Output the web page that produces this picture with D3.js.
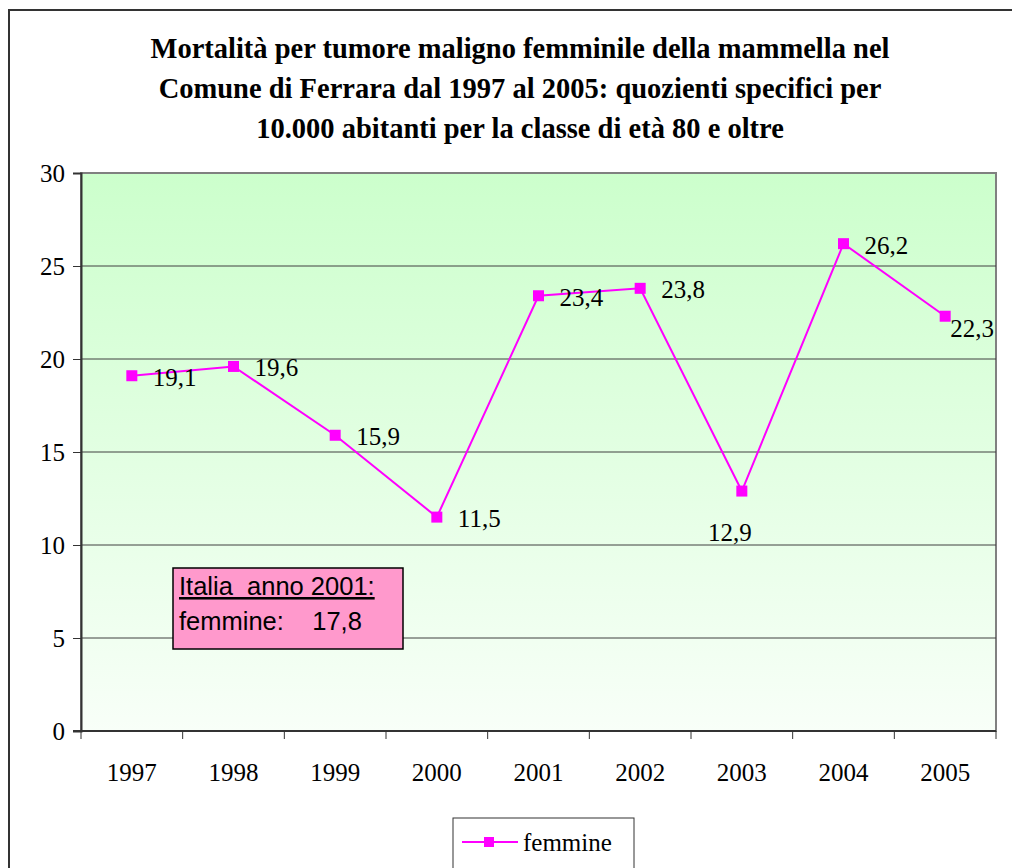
<!DOCTYPE html>
<html lang="it">
<head>
<meta charset="UTF-8" />
<title>Mortalità tumore mammella Ferrara</title>
<script src="https://d3js.org/d3.v7.min.js"></script>
<style>
  body { margin: 0; background: #fff; }
  svg { display: block; }
</style>
</head>
<body>
<svg id="chart" width="1012" height="868"></svg>
<script>
  const years = ["1997", "1998", "1999", "2000", "2001", "2002", "2003", "2004", "2005"];
  const femmine = [19.1, 19.6, 15.9, 11.5, 23.4, 23.8, 12.9, 26.2, 22.3];
  const yTicks = [0, 5, 10, 15, 20, 25, 30];
  const titleLines = [
    "Mortalità per tumore maligno femminile della mammella nel",
    "Comune di Ferrara dal 1997 al 2005: quozienti specifici per",
    "10.000 abitanti per la classe di età 80 e oltre"
  ];
  const noteLines = ["Italia  anno 2001:", "femmine:    17,8"];
  const seriesName = "femmine";

  // labels were moved by hand in the original for two points
  const labelNudge = { "2003": [-12, 50, "middle"], "2005": [5, 21, "start"] };

  const SERIF = "'Liberation Serif', 'Times New Roman', serif";
  const SANS = "'Liberation Sans', Arial, sans-serif";

  const svg = d3.select("#chart");
  const plot = { left: 81, top: 173, right: 996, bottom: 731 };

  // outer frame
  svg.append("rect")
    .attr("x", 9).attr("y", 10)
    .attr("width", 1040).attr("height", 900)
    .attr("fill", "#fff").attr("stroke", "#333").attr("stroke-width", 2);

  // title
  svg.append("g")
    .selectAll("text").data(titleLines).enter().append("text")
    .attr("x", 520).attr("y", (d, i) => 58 + i * 40)
    .attr("text-anchor", "middle")
    .attr("font-family", SERIF)
    .attr("font-size", 28.5).attr("font-weight", "bold")
    .text(d => d);

  const x = d3.scaleBand().domain(years).range([plot.left, plot.right]);
  const y = d3.scaleLinear().domain([0, 30]).range([plot.bottom, plot.top]);

  // background gradient
  const grad = svg.append("defs").append("linearGradient")
    .attr("id", "bg").attr("x1", 0).attr("y1", 0).attr("x2", 0).attr("y2", 1);
  grad.append("stop").attr("offset", "0%").attr("stop-color", "#ccffcc");
  grad.append("stop").attr("offset", "100%").attr("stop-color", "#f8fff8");

  svg.append("rect")
    .attr("x", plot.left).attr("y", plot.top)
    .attr("width", plot.right - plot.left).attr("height", plot.bottom - plot.top)
    .attr("fill", "url(#bg)").attr("stroke", "#808080").attr("stroke-width", 2);

  // gridlines
  svg.append("g")
    .selectAll("line").data(yTicks.filter(t => t > 0 && t < 30)).enter().append("line")
    .attr("x1", plot.left).attr("x2", plot.right)
    .attr("y1", d => y(d)).attr("y2", d => y(d))
    .attr("stroke", "#404040").attr("stroke-width", 1);

  // y axis
  const yAxis = svg.append("g")
    .attr("transform", `translate(${plot.left},0)`)
    .call(d3.axisLeft(y).tickValues(yTicks).tickSize(8).tickPadding(8));
  yAxis.select(".domain").attr("stroke", "#333").attr("stroke-width", 2);
  yAxis.selectAll(".tick line").attr("stroke", "#333");
  yAxis.selectAll("text").attr("font-family", SERIF).attr("font-size", 25)
    .attr("fill", "#000").attr("dy", "0.35em");

  // x axis: ticks between categories
  const xAxis = svg.append("g")
    .attr("transform", `translate(0,${plot.bottom})`);
  xAxis.append("line")
    .attr("x1", plot.left - 8).attr("x2", plot.right)
    .attr("stroke", "#333").attr("stroke-width", 2);
  xAxis.selectAll("line.tk").data(years.concat(["end"])).enter().append("line")
    .attr("class", "tk")
    .attr("x1", (d, i) => i < years.length ? x(d) : plot.right)
    .attr("x2", (d, i) => i < years.length ? x(d) : plot.right)
    .attr("y1", 0).attr("y2", 8)
    .attr("stroke", "#333");
  xAxis.selectAll("text").data(years).enter().append("text")
    .attr("font-family", SERIF)
    .attr("x", d => x(d) + x.bandwidth() / 2)
    .attr("y", 50)
    .attr("text-anchor", "middle")
    .attr("font-size", 25)
    .text(d => d);

  // line
  const pts = years.map((yr, i) => ({ yr, v: femmine[i] }));
  const cx = d => x(d.yr) + x.bandwidth() / 2;

  svg.append("path")
    .datum(pts)
    .attr("fill", "none").attr("stroke", "#ff00ff").attr("stroke-width", 2)
    .attr("d", d3.line().x(cx).y(d => y(d.v)));

  svg.append("g").selectAll("rect").data(pts).enter().append("rect")
    .attr("x", d => cx(d) - 5.5).attr("y", d => y(d.v) - 5.5)
    .attr("width", 11).attr("height", 11)
    .attr("fill", "#ff00ff");

  svg.append("g").selectAll("text").data(pts).enter().append("text")
    .attr("font-family", SERIF)
    .attr("font-size", 25)
    .attr("x", d => cx(d) + (labelNudge[d.yr] ? labelNudge[d.yr][0] : 21))
    .attr("y", d => y(d.v) + (labelNudge[d.yr] ? labelNudge[d.yr][1] : 10))
    .attr("text-anchor", d => labelNudge[d.yr] ? labelNudge[d.yr][2] : "start")
    .text(d => d.v.toString().replace(".", ","));

  // note box
  const note = svg.append("g");
  note.append("rect")
    .attr("x", 173).attr("y", 568).attr("width", 230).attr("height", 81)
    .attr("fill", "#ff99cc").attr("stroke", "#000").attr("stroke-width", 1.5);
  note.selectAll("text").data(noteLines).enter().append("text")
    .attr("font-family", SANS)
    .attr("x", 179).attr("y", (d, i) => 595 + i * 35)
    .attr("font-size", 25.5)
    .style("white-space", "pre")
    .attr("text-decoration", (d, i) => i === 0 ? "underline" : null)
    .text(d => d);

  // legend
  const lg = svg.append("g");
  lg.append("rect")
    .attr("x", 453).attr("y", 818).attr("width", 181).attr("height", 60)
    .attr("fill", "#fff").attr("stroke", "#333").attr("stroke-width", 1);
  lg.append("line")
    .attr("x1", 462).attr("x2", 518).attr("y1", 842).attr("y2", 842)
    .attr("stroke", "#ff00ff").attr("stroke-width", 2);
  lg.append("rect")
    .attr("x", 484).attr("y", 837).attr("width", 10).attr("height", 10)
    .attr("fill", "#ff00ff");
  lg.append("text")
    .attr("font-family", SERIF)
    .attr("x", 523).attr("y", 851)
    .attr("font-size", 25)
    .text(seriesName);
</script>
</body>
</html>
